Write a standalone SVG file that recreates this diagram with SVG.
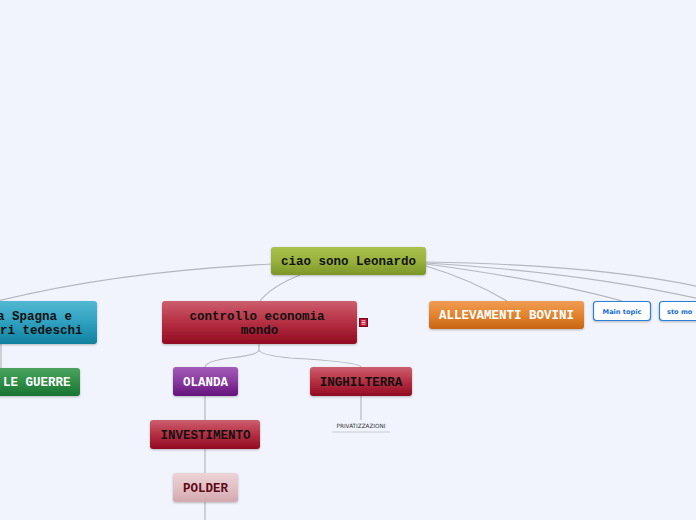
<svg xmlns="http://www.w3.org/2000/svg" width="696" height="520" viewBox="0 0 696 520">
<defs>
<linearGradient id="gGreen" x1="0" y1="0" x2="0" y2="1"><stop offset="0" stop-color="#a9c24f"/><stop offset="0.5" stop-color="#98b23c"/><stop offset="1" stop-color="#7c9628"/></linearGradient>
<linearGradient id="gRed" x1="0" y1="0" x2="0" y2="1"><stop offset="0" stop-color="#cc5f6e"/><stop offset="0.45" stop-color="#b83346"/><stop offset="1" stop-color="#920a22"/></linearGradient>
<linearGradient id="gBlue" x1="0" y1="0" x2="0" y2="1"><stop offset="0" stop-color="#52b8d2"/><stop offset="0.5" stop-color="#2fa0c0"/><stop offset="1" stop-color="#10809f"/></linearGradient>
<linearGradient id="gDkGreen" x1="0" y1="0" x2="0" y2="1"><stop offset="0" stop-color="#4aa35e"/><stop offset="0.5" stop-color="#2f8d46"/><stop offset="1" stop-color="#1a7432"/></linearGradient>
<linearGradient id="gPurple" x1="0" y1="0" x2="0" y2="1"><stop offset="0" stop-color="#a45cb8"/><stop offset="0.5" stop-color="#883a9e"/><stop offset="1" stop-color="#64137c"/></linearGradient>
<linearGradient id="gOrange" x1="0" y1="0" x2="0" y2="1"><stop offset="0" stop-color="#f09c52"/><stop offset="0.5" stop-color="#e2842f"/><stop offset="1" stop-color="#c86412"/></linearGradient>
<linearGradient id="gPink" x1="0" y1="0" x2="0" y2="1"><stop offset="0" stop-color="#ecd3d6"/><stop offset="0.5" stop-color="#e2c0c4"/><stop offset="1" stop-color="#d3a8ae"/></linearGradient>
<filter id="sh" x="-10%" y="-10%" width="120%" height="140%"><feDropShadow dx="0" dy="1" stdDeviation="0.8" flood-color="#000" flood-opacity="0.25"/></filter>
</defs>
<style>
.bg{fill:#f2f4fd}
.box{filter:url(#sh)}
.t{font-family:"Liberation Mono","Courier New",monospace;font-weight:bold;font-size:12.5px;text-anchor:middle}
.dk{fill:#111}
.wh{fill:#fff}
.ln{fill:none;stroke:#b4b7bf;stroke-width:1.2}
.sm{font-family:"DejaVu Sans",Verdana,sans-serif;font-weight:bold;font-size:6.6px;fill:#1a6fcf;text-anchor:middle}
.tiny{font-family:"DejaVu Sans",Verdana,sans-serif;font-size:5.7px;fill:#333;text-anchor:middle}
</style>
<rect class="bg" x="0" y="0" width="696" height="520"/>
<g id="connectors">
<path class="ln" d="M272 264 Q 110 272 -10 303"/>
<path class="ln" d="M300 275 Q 272 286 260 301"/>
<path class="ln" d="M426 266 Q 472 280 507 301"/>
<path class="ln" d="M426 264 Q 545 280 622 301"/>
<path class="ln" d="M426 263 Q 580 272 700 299"/>
<path class="ln" d="M426 262 Q 600 265 700 287"/>
<path class="ln" d="M1 344 L1 368"/>
<path class="ln" d="M259 344 L259 350 Q 258 355 230 358 Q 206 361 205 367"/>
<path class="ln" d="M259 350 Q 260 355 290 358 Q 360 362 361 367"/>
<path class="ln" d="M205 396 L205 420 M205 449 L205 473 M205 502 L205 520"/>
<path class="ln" d="M361 396 L361 420"/>
<path d="M332 432 L390 432" fill="none" stroke="#c9ccd3" stroke-width="1"/>
</g>
<g id="n-central">
<rect class="box" x="271" y="247" width="155" height="28" rx="3" fill="url(#gGreen)"/>
<text class="t dk" x="348.5" y="265">ciao sono Leonardo</text>
</g>
<g id="n-spagna">
<rect class="box" x="-110" y="301" width="207" height="43" rx="3" fill="url(#gBlue)"/>
<text class="t dk" x="-3" y="320" style="text-anchor:start">a Spagna e</text>
<text class="t dk" x="0" y="334" style="text-anchor:start">ri tedeschi</text>
</g>
<g id="n-guerre">
<rect class="box" x="-20" y="368" width="100" height="28" rx="3" fill="url(#gDkGreen)"/>
<text class="t wh" x="3" y="386" style="text-anchor:start">LE GUERRE</text>
</g>
<g id="n-controllo">
<rect class="box" x="162" y="301" width="195" height="43" rx="3" fill="url(#gRed)"/>
<text class="t dk" x="257" y="320">controllo economia</text>
<text class="t dk" x="259.5" y="334">mondo</text>
<rect x="359.5" y="318.5" width="8" height="8" fill="#c0102e" stroke="#7a0a1c" stroke-width="1"/>
<path d="M361.5 320.8 H365.5 M361.5 322.5 H365.5 M361.5 324.2 H365.5" stroke="#fff" stroke-width="0.8"/>
</g>
<g id="n-allevamenti">
<rect class="box" x="429" y="301" width="155" height="28" rx="3" fill="url(#gOrange)"/>
<text class="t wh" x="506.5" y="319">ALLEVAMENTI BOVINI</text>
</g>
<g id="n-main">
<rect x="593.5" y="301.5" width="57" height="19" rx="3" fill="#fff" stroke="#2b7fd6" stroke-width="1.2" filter="url(#sh)"/>
<text class="sm" x="622" y="314">Main topic</text>
</g>
<g id="n-sto">
<rect x="659.5" y="301.5" width="60" height="19" rx="3" fill="#fff" stroke="#2b7fd6" stroke-width="1.2" filter="url(#sh)"/>
<text class="sm" x="667" y="314" style="text-anchor:start">sto mo</text>
</g>
<g id="n-olanda">
<rect class="box" x="173" y="367" width="65" height="29" rx="3" fill="url(#gPurple)"/>
<text class="t wh" x="205.5" y="386">OLANDA</text>
</g>
<g id="n-inghilterra">
<rect class="box" x="310" y="367" width="102" height="29" rx="3" fill="url(#gRed)"/>
<text class="t dk" x="361" y="386">INGHILTERRA</text>
</g>
<g id="n-privatizzazioni">
<text class="tiny" x="361" y="428">PRIVATIZZAZIONI</text>
</g>
<g id="n-investimento">
<rect class="box" x="150" y="420" width="110" height="29" rx="3" fill="url(#gRed)"/>
<text class="t dk" x="205.5" y="439">INVESTIMENTO</text>
</g>
<g id="n-polder">
<rect class="box" x="173" y="473" width="65" height="29" rx="3" fill="url(#gPink)"/>
<text class="t" x="205.5" y="492" fill="#5e0a1a">POLDER</text>
</g>
</svg>
